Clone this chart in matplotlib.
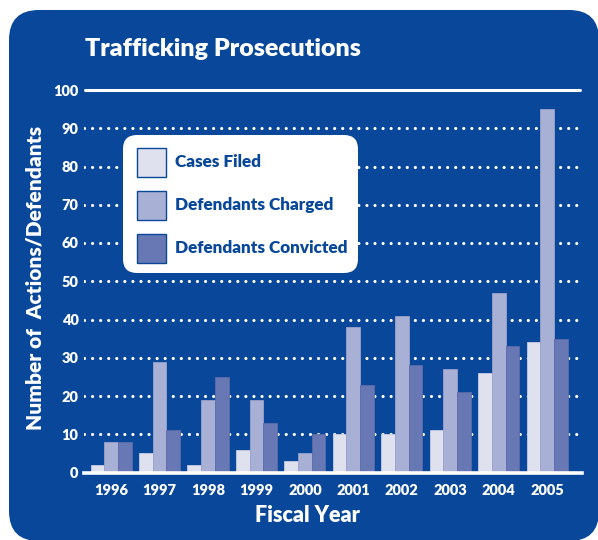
import matplotlib
matplotlib.use("Agg")
import matplotlib.pyplot as plt
from matplotlib.patches import FancyBboxPatch, Rectangle
import numpy as np

plt.rcParams['font.family'] = ['Lato', 'DejaVu Sans']
plt.rcParams['lines.scale_dashes'] = False

years = ["1996", "1997", "1998", "1999", "2000", "2001", "2002", "2003", "2004", "2005"]
cases_filed = [2, 5, 2, 6, 3, 10, 10, 11, 26, 34]
defendants_charged = [8, 29, 19, 19, 5, 38, 41, 27, 47, 95]
defendants_convicted = [8, 11, 25, 13, 10, 23, 28, 21, 33, 35]
series_names = ["Cases Filed", "Defendants Charged", "Defendants Convicted"]
y_ticks = [0, 10, 20, 30, 40, 50, 60, 70, 80, 90, 100]

BLUE = "#08479A"
COLORS = ["#DFE1EF", "#A9B0D5", "#6878B4"]
EDGES = ["#C9CCE2", "#9AA1CB", "#5B6BAA"]
WEIGHT = "heavy"

W, H = 598, 540
fig = plt.figure(figsize=(W / 100, H / 100), dpi=100)
fig.patch.set_facecolor("white")

def px(x0, y0, x1, y1):
    return [x0 / W, 1 - y1 / H, (x1 - x0) / W, (y1 - y0) / H]

# background panel
bg = fig.add_axes([0, 0, 1, 1], zorder=0)
bg.set_xlim(0, W); bg.set_ylim(H, 0); bg.axis("off")
bg.add_patch(FancyBboxPatch((9, 10), 590, 531,
                            boxstyle="round,pad=0,rounding_size=30",
                            facecolor=BLUE, edgecolor="none"))

# main axes
ax = fig.add_axes(px(84, 90, 582, 472.5), zorder=1)
ax.patch.set_visible(False)
x = np.arange(len(years))
w = 0.283
for j, vals in enumerate([cases_filed, defendants_charged, defendants_convicted]):
    ax.bar(x + (j - 1) * w, vals, width=w, color=COLORS[j], edgecolor=EDGES[j],
           linewidth=0.6, zorder=3)
ax.set_xlim(-0.56, 9.72)
ax.set_ylim(0, 100)

for yv in y_ticks[1:-1]:
    ax.axhline(yv, xmin=0, xmax=(578 - 84) / (582 - 84), color="white",
               linewidth=2.3, linestyle=(0, (0.01, 5.8)), dash_capstyle="round",
               zorder=2)
ax.axhline(100, xmin=0.002, xmax=(580 - 84) / (582 - 84), color="white",
           linewidth=2.2, solid_capstyle="round", zorder=2, clip_on=False)
ax.axhline(0, xmin=0, xmax=1, color="white", linewidth=2.6, zorder=4, clip_on=False)

for s in ax.spines.values():
    s.set_visible(False)
ax.set_yticks(y_ticks)
ax.set_yticklabels([str(v) for v in y_ticks])
ax.set_xticks(x)
ax.set_xticklabels(years)
ax.tick_params(axis="both", length=0, colors="white", labelsize=10.5)
ax.tick_params(axis="y", pad=4)
ax.tick_params(axis="x", pad=8)
for lab in ax.get_xticklabels() + ax.get_yticklabels():
    lab.set_fontweight(WEIGHT)

fig.text(85 / W, 1 - 49 / H, "Trafficking Prosecutions", color="white",
         fontsize=18, fontweight=WEIGHT, ha="left", va="center")
fig.text(35 / W, 1 - 278 / H, "Number of  Actions/Defendants", color="white",
         fontsize=15, fontweight=WEIGHT, ha="center", va="center", rotation=90)
fig.text(307 / W, 1 - 515 / H, "Fiscal Year", color="white",
         fontsize=15.5, fontweight=WEIGHT, ha="center", va="center")

# legend overlay
ov = fig.add_axes([0, 0, 1, 1], zorder=5)
ov.set_xlim(0, W); ov.set_ylim(H, 0); ov.axis("off")
ov.add_patch(FancyBboxPatch((123, 135), 235, 138,
                            boxstyle="round,pad=0,rounding_size=14",
                            facecolor="white", edgecolor="none"))
ys = [162, 205, 248]
for j, name in enumerate(series_names):
    ov.add_patch(Rectangle((137, ys[j] - 14.5), 29, 29, facecolor=COLORS[j],
                           edgecolor=BLUE, linewidth=1.0))
    ov.text(175, ys[j], name, color=BLUE, fontsize=12.3, fontweight=WEIGHT,
            ha="left", va="center")

fig.savefig("out.png", dpi=100, facecolor="white")
